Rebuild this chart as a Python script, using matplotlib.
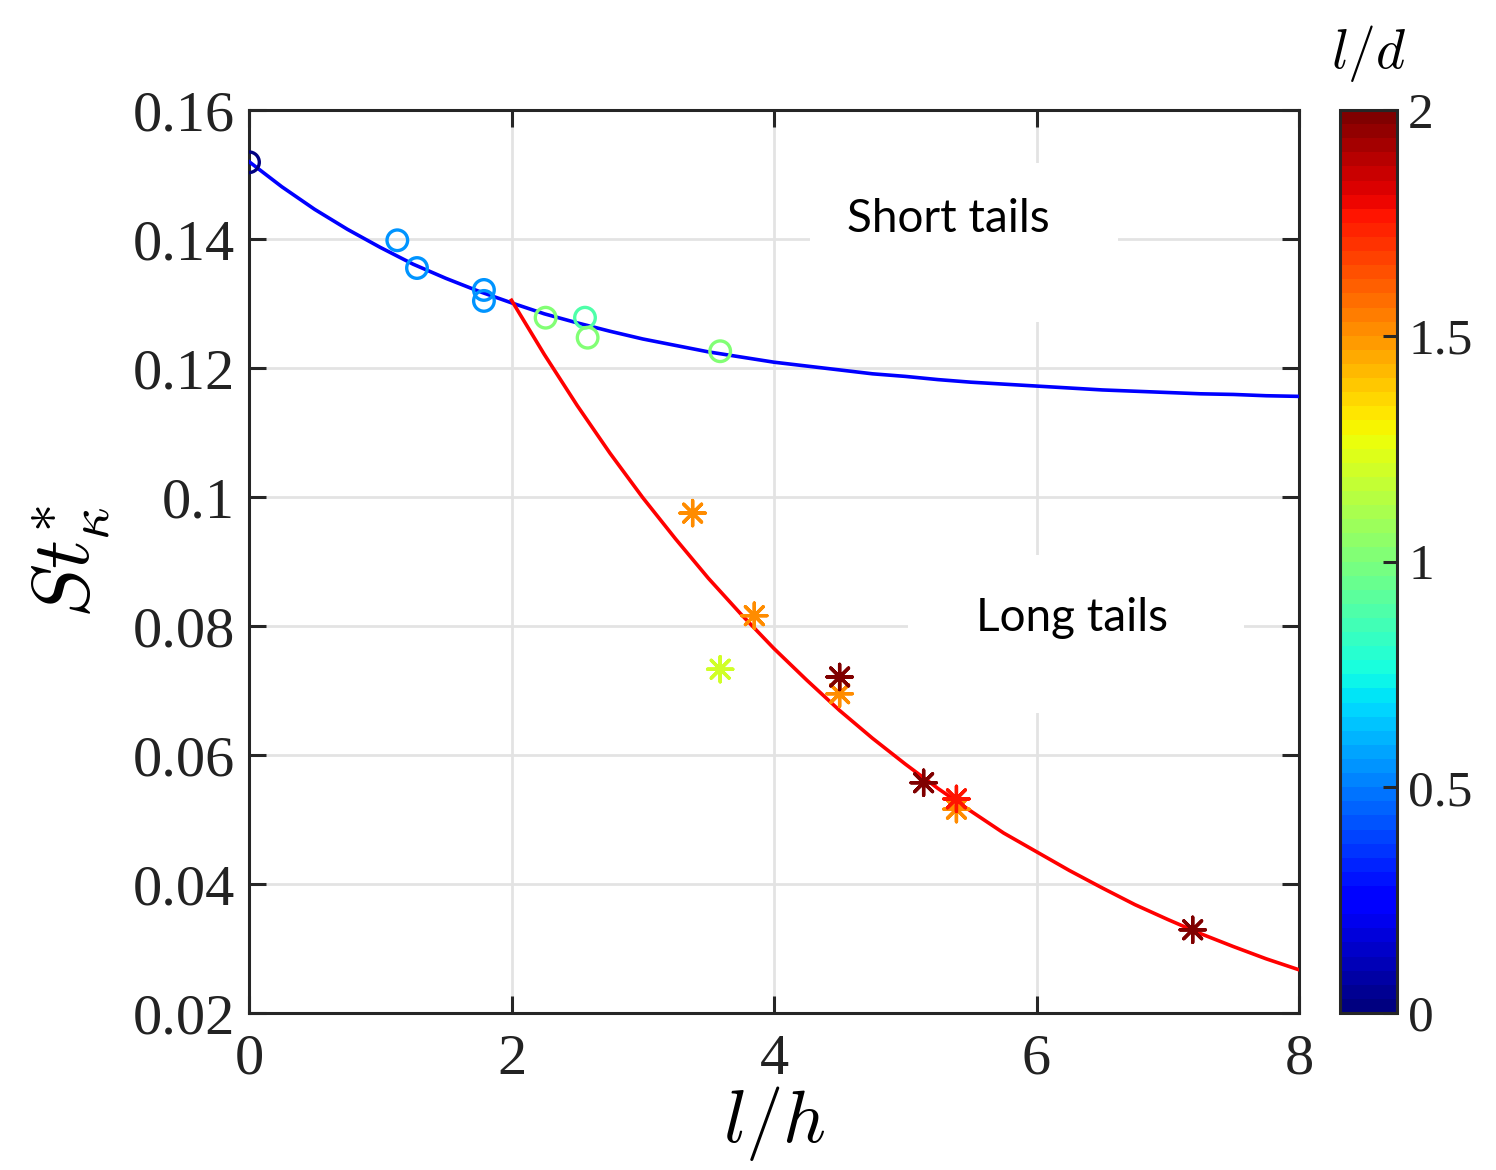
import numpy as np
import matplotlib
matplotlib.use("Agg")
import matplotlib.pyplot as plt
from matplotlib.colors import Normalize
from matplotlib.cm import ScalarMappable
from matplotlib.patches import Rectangle

# ---------------- data ----------------
# short-tail data (circles)
circ_x = [0.0, 1.13, 1.28, 1.79, 1.79, 2.26, 2.56, 2.58, 3.59]
circ_y = [0.1519, 0.1398, 0.1355, 0.1321, 0.1304, 0.1278, 0.1278, 0.1247, 0.1226]
circ_ld = [0.0, 0.55, 0.55, 0.55, 0.55, 1.0, 0.88, 1.0, 1.0]

# long-tail data (asterisks)
ast_x = [3.38, 3.85, 3.59, 4.50, 4.50, 5.14, 5.39, 5.39, 7.19]
ast_y = [0.0975, 0.0816, 0.0733, 0.0695, 0.0721, 0.0557, 0.0516, 0.0532, 0.0329]
ast_ld = [1.5, 1.5, 1.2, 1.5, 2.0, 2.0, 1.5, 1.75, 2.0]

# fitted curves
blue_x = [0.0, 0.25, 0.5, 0.75, 1.0, 1.25, 1.5, 1.75, 2.0, 2.25, 2.5, 2.75,
          3.0, 3.25, 3.5, 3.75, 4.0, 4.25, 4.5, 4.75, 5.0, 5.25, 5.5, 5.75,
          6.0, 6.25, 6.5, 6.75, 7.0, 7.25, 7.5, 7.75, 8.0]
blue_y = [0.1520, 0.1481, 0.1446, 0.1415, 0.1387, 0.1361, 0.1339, 0.1319,
          0.1301, 0.1284, 0.1270, 0.1257, 0.1245, 0.1235, 0.1225, 0.1217,
          0.1209, 0.1203, 0.1197, 0.1191, 0.1187, 0.1182, 0.1178, 0.1175,
          0.1172, 0.1169, 0.1166, 0.1164, 0.1162, 0.1160, 0.1159, 0.1157,
          0.1156]
red_x = [2.0, 2.25, 2.5, 2.75, 3.0, 3.25, 3.5, 3.75, 4.0, 4.25, 4.5, 4.75,
         5.0, 5.25, 5.5, 5.75, 6.0, 6.25, 6.5, 6.75, 7.0, 7.25, 7.5, 7.75,
         8.0]
red_y = [0.1305, 0.1221, 0.1142, 0.1068, 0.0999, 0.0935, 0.0874, 0.0818,
         0.0765, 0.0716, 0.0669, 0.0626, 0.0586, 0.0548, 0.0513, 0.0479,
         0.0450, 0.0421, 0.0394, 0.0368, 0.0345, 0.0323, 0.0303, 0.0284,
         0.0267]

x_ticks = [0, 2, 4, 6, 8]
y_ticks = [0.02, 0.04, 0.06, 0.08, 0.10, 0.12, 0.14, 0.16]
y_ticklabels = ["0.02", "0.04", "0.06", "0.08", "0.1", "0.12", "0.14", "0.16"]
cb_ticks = [0, 0.5, 1, 1.5, 2]
cb_ticklabels = ["0", "0.5", "1", "1.5", "2"]

# ---------------- styling ----------------
plt.rcParams["mathtext.fontset"] = "cm"
plt.rcParams["font.family"] = ["Liberation Serif", "DejaVu Serif"]

axcol = "#262626"
cmap = plt.get_cmap("jet", 64)
norm = Normalize(vmin=0, vmax=2)

fig = plt.figure(figsize=(14.96, 11.70), dpi=100)
ax = fig.add_axes([249 / 1496, 1 - 1013 / 1170, 1050 / 1496, 903 / 1170])
cax = fig.add_axes([1340 / 1496, 1 - 1013 / 1170, 57 / 1496, 903 / 1170])

ax.set_xlim(0, 8)
ax.set_ylim(0.02, 0.16)
ax.set_axisbelow(True)
ax.grid(True, color="#e3e3e3", linewidth=2.0)

# white label boxes (hide grid behind the annotations)
ax.add_patch(Rectangle((4.274, 0.1271), 6.621 - 4.274, 0.1518 - 0.1271,
                       facecolor="white", edgecolor="none", zorder=1))
ax.add_patch(Rectangle((5.021, 0.0665), 7.581 - 5.021, 0.0910 - 0.0665,
                       facecolor="white", edgecolor="none", zorder=1))

ax.plot(blue_x, blue_y, color="#0000ff", linewidth=2.6, zorder=3)
ax.plot(red_x, red_y, color="#ff0000", linewidth=2.6, zorder=3)

ax.scatter(circ_x, circ_y, s=220, facecolors="none",
           edgecolors=cmap(norm(np.array(circ_ld))), linewidths=2.4, zorder=4)
ax.scatter(ast_x, ast_y, s=330, marker=(8, 2, 0),
           c=cmap(norm(np.array(ast_ld))), linewidths=2.4, zorder=4)

ax.text(5.326, 0.1431, "Short tails", fontsize=33, family="Lato",
        ha="center", va="center", zorder=5)
ax.text(6.27, 0.0812, "Long tails", fontsize=33, family="Lato",
        ha="center", va="center", zorder=5)

ax.set_xticks(x_ticks)
ax.set_xticklabels([str(t) for t in x_ticks])
ax.set_yticks(y_ticks)
ax.set_yticklabels(y_ticklabels)
ax.tick_params(direction="in", length=12, width=2.2, colors=axcol,
               labelsize=42, top=True, right=True, labelcolor="#222222")
ax.tick_params(axis="x", pad=15)
ax.tick_params(axis="y", pad=10)
for s in ax.spines.values():
    s.set_color(axcol)
    s.set_linewidth(2.2)

ax.set_xlabel(r"$l/h$", fontsize=54, labelpad=-1)
ax.set_ylabel(r"$St^{*}_{\kappa}$", fontsize=58, labelpad=14)

sm = ScalarMappable(norm=norm, cmap=cmap)
cb = fig.colorbar(sm, cax=cax, ticks=cb_ticks)
cb.ax.set_yticklabels(cb_ticklabels)
cb.ax.tick_params(direction="in", length=10, width=2.2, colors=axcol,
                  labelsize=37, labelcolor="#222222", pad=8)
cb.outline.set_edgecolor(axcol)
cb.outline.set_linewidth(2.2)
cb.ax.set_title(r"$l/d$", fontsize=40, pad=30)

fig.savefig("out.png", dpi=100, facecolor="white")
